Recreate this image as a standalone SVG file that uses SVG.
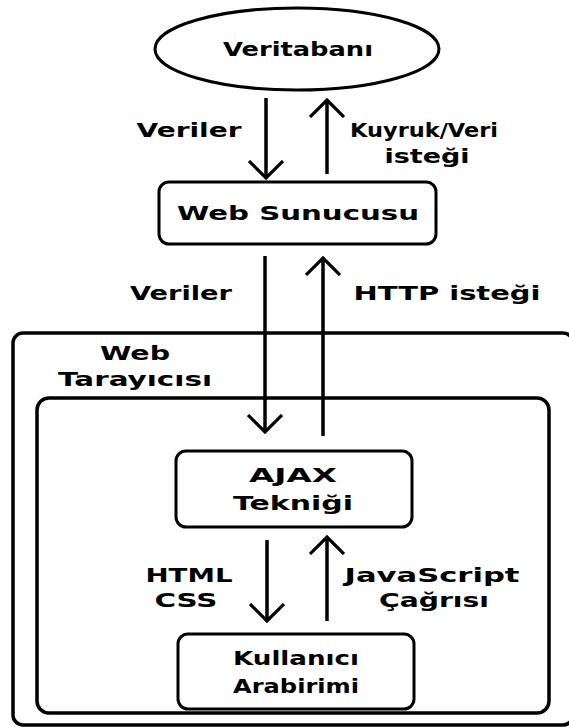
<svg xmlns="http://www.w3.org/2000/svg" width="569" height="727" viewBox="0 0 569 727">
  <defs>
    <marker id="head" viewBox="0 0 20 36" refX="18" refY="18" markerWidth="20" markerHeight="36" markerUnits="userSpaceOnUse" orient="auto">
      <path d="M1,1 L18,18 L1,35" fill="none" stroke="#000" stroke-width="3.2"/>
    </marker>
  </defs>
  <style>
    .lbl { font-family: "DejaVu Sans", Verdana, sans-serif; font-weight: bold; font-size: 19px; fill: #000; text-anchor: middle; }
    .node { fill: #fff; stroke: #000; stroke-width: 3; }
    .frame { fill: none; stroke: #000; stroke-width: 3.5; }
    .wire { fill: none; stroke: #000; stroke-width: 3.5; marker-end: url(#head); }
  </style>
  <rect width="569" height="727" fill="#fff"/>

  <!-- browser frame and inner page area -->
  <g id="web-tarayicisi">
    <rect class="frame" x="13" y="333" width="560" height="392" rx="10"/>
    <text class="lbl" x="135" y="360" textLength="70" lengthAdjust="spacingAndGlyphs">Web</text>
    <text class="lbl" x="135" y="386" textLength="154" lengthAdjust="spacingAndGlyphs">Tarayıcısı</text>
  </g>
  <g id="sayfa">
    <rect class="frame" x="37" y="398" width="512" height="315" rx="12" stroke-width="4"/>
  </g>

  <g id="veritabani">
    <ellipse class="node" cx="297" cy="49" rx="142" ry="41"/>
    <text class="lbl" x="298" y="56" textLength="150" lengthAdjust="spacingAndGlyphs">Veritabanı</text>
  </g>

  <g id="web-sunucusu">
    <rect class="node" x="159" y="182" width="277" height="62" rx="10"/>
    <text class="lbl" x="298" y="220" textLength="242" lengthAdjust="spacingAndGlyphs">Web Sunucusu</text>
  </g>

  <g id="ajax">
    <rect class="node" x="176" y="451" width="236" height="76" rx="10"/>
    <text class="lbl" x="293" y="482" textLength="88" lengthAdjust="spacingAndGlyphs">AJAX</text>
    <text class="lbl" x="293" y="510" textLength="120" lengthAdjust="spacingAndGlyphs">Tekniği</text>
  </g>

  <g id="kullanici-arabirimi">
    <rect class="node" x="178" y="634" width="236" height="75" rx="10"/>
    <text class="lbl" x="296" y="665" textLength="126" lengthAdjust="spacingAndGlyphs">Kullanıcı</text>
    <text class="lbl" x="296" y="693" textLength="126" lengthAdjust="spacingAndGlyphs">Arabirimi</text>
  </g>

  <!-- connectors -->
  <g id="baglantilar">
    <path class="wire" d="M266,98 V178"/>
    <path class="wire" d="M327,174 V100"/>
    <path class="wire" d="M265,256 V432"/>
    <path class="wire" d="M323,436 V258"/>
    <path class="wire" d="M267,540 V621"/>
    <path class="wire" d="M327,621 V537"/>
  </g>

  <!-- connector labels -->
  <g id="etiketler">
    <text class="lbl" x="189" y="137" textLength="105" lengthAdjust="spacingAndGlyphs">Veriler</text>
    <text class="lbl" x="424" y="137" textLength="148" lengthAdjust="spacingAndGlyphs">Kuyruk/Veri</text>
    <text class="lbl" x="427" y="163" textLength="85" lengthAdjust="spacingAndGlyphs">isteği</text>
    <text class="lbl" x="181" y="300" textLength="102" lengthAdjust="spacingAndGlyphs">Veriler</text>
    <text class="lbl" x="447" y="300" textLength="187" lengthAdjust="spacingAndGlyphs">HTTP isteği</text>
    <text class="lbl" x="189" y="582" textLength="87" lengthAdjust="spacingAndGlyphs">HTML</text>
    <text class="lbl" x="186" y="607" textLength="63" lengthAdjust="spacingAndGlyphs">CSS</text>
    <text class="lbl" x="432" y="582" textLength="175" lengthAdjust="spacingAndGlyphs">JavaScript</text>
    <text class="lbl" x="434" y="607" textLength="110" lengthAdjust="spacingAndGlyphs">Çağrısı</text>
  </g>
</svg>
